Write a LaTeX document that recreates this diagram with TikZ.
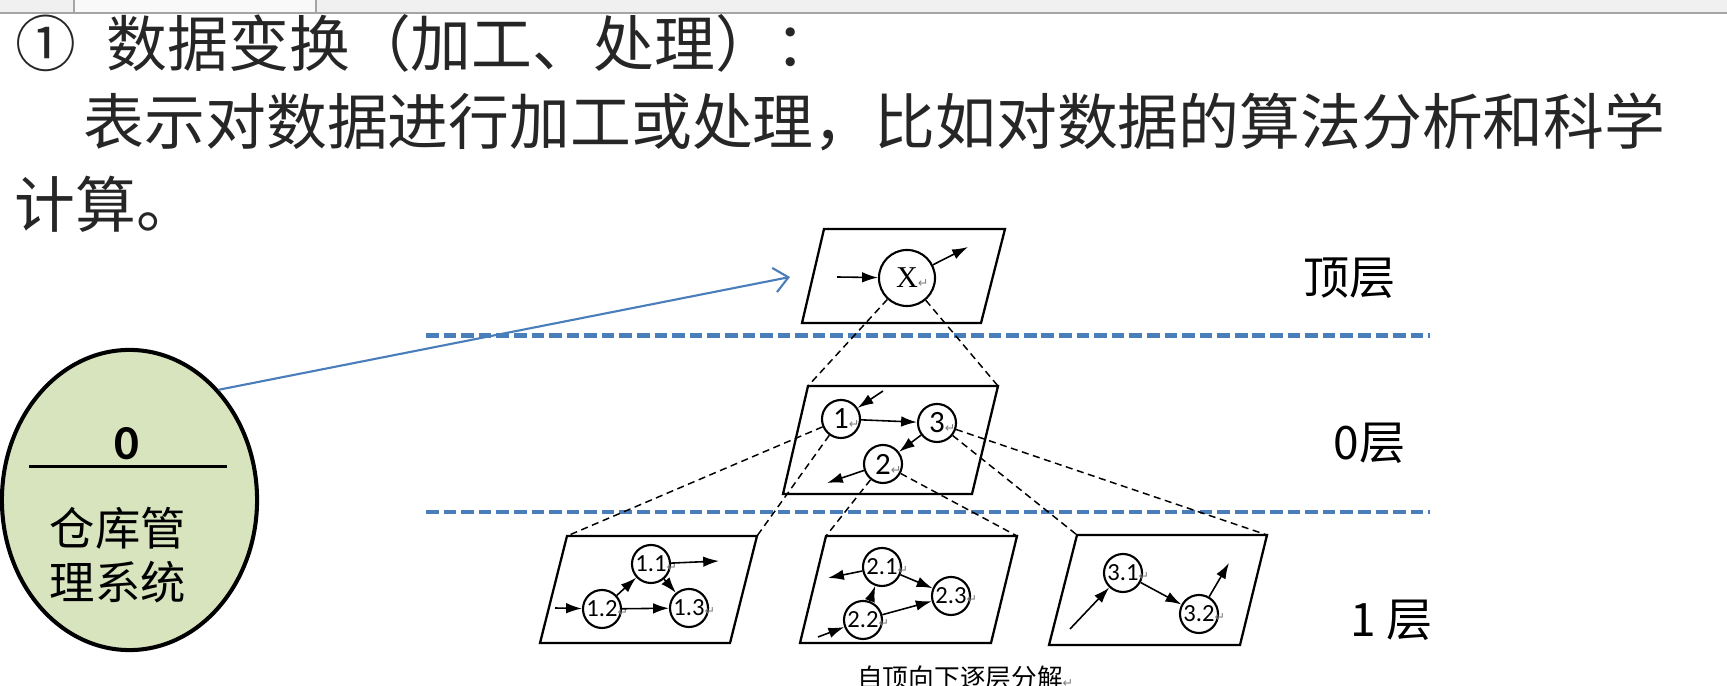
\documentclass[tikz,border=0pt]{standalone}
\usepackage{fontspec}
\setmainfont{Noto Sans CJK SC}
\newfontfamily\cjkfont{Noto Sans CJK SC}
\newfontfamily\calfont{Carlito}
\newfontfamily\timesfont{Liberation Serif}
\newfontfamily\markfont{DejaVu Sans}
\usetikzlibrary{shapes.geometric,arrows.meta}

\definecolor{ppblue}{RGB}{74,126,187}
\definecolor{sysgreen}{RGB}{215,228,189}
\definecolor{titlegray}{RGB}{38,38,38}
\definecolor{barfill}{RGB}{240,240,240}
\definecolor{barline}{RGB}{165,165,165}

\newcommand\setsize[1]{\fontsize{#1}{#1}\selectfont}
% small paragraph mark after a label, taking no width
\newcommand\retmark{\rlap{\markfont\fontsize{3.6pt}{4pt}\selectfont\color{gray}↵}}

\tikzset{
  plane/.style={draw, line width=0.65pt, line join=miter},
  proc/.style={circle, draw, fill=white, line width=0.6pt, minimum size=0.38cm,
               inner sep=0pt, font=\calfont\setsize{8.8pt}},
  subproc/.style={proc, font=\calfont\setsize{7pt}},
  topproc/.style={proc, minimum size=0.56cm, font=\timesfont\setsize{8.6pt}},
  flow/.style={-{Latex[length=4.5pt,width=3pt]}, line width=0.45pt},
  guide/.style={line width=0.42pt, dash pattern=on 2pt off 1.3pt},
  levelsep/.style={ppblue, line width=1.15pt, dash pattern=on 3.6pt off 1.4pt},
  heading/.style={anchor=base west, inner sep=0pt, text=titlegray,
                  font=\cjkfont\setsize{17.3pt}},
  levelname/.style={anchor=base west, inner sep=0pt, font=\cjkfont\setsize{13.1pt}},
}

\begin{document}
\begin{tikzpicture}[x=0.01cm, y=-0.01cm]
\useasboundingbox (0,0) rectangle (1727,686);
\fill[white] (0,0) rectangle (1727,686);

% window strip along the top edge
\fill[barfill] (0,0) rectangle (1727,13);
\fill[white!60!barfill] (74,0) rectangle (316,13);
\draw[barline, line width=0.3pt] (74,0) -- (74,13) (316,0) -- (316,13);
\draw[barline, line width=0.5pt] (0,13) -- (1727,13);

% heading text
\node[heading] (hnum) at (15,67) {①};
\node[heading] (h1) at (106,67) {数据变换（加工、处理）：};
\node[heading] (h2) at (83,145) {表示对数据进行加工或处理，比如对数据的算法分析和科学};
\node[heading] (h3) at (14,228) {计算。};

% level separators
\coordinate (s1l) at (426,335.5); \coordinate (s1r) at (1430,335.5);
\coordinate (s2l) at (426,512);   \coordinate (s2r) at (1430,512);
\draw[levelsep] (s1l) -- (s1r);
\draw[levelsep] (s2l) -- (s2r);

% level names
\node[levelname] (lvtop) at (1303,295) {顶层};
\node[levelname] (lv0) at (1333,460) {0层};
\node[levelname] (lv1) at (1350,637) {1 层};

% plane corners
\coordinate (T1) at (824,229);  \coordinate (T2) at (1005,229);
\coordinate (T3) at (981,323);  \coordinate (T4) at (802,323);
\coordinate (Z1) at (808,386);  \coordinate (Z2) at (998,386);
\coordinate (Z3) at (972,494);  \coordinate (Z4) at (783,494);
\coordinate (A1) at (567,536);  \coordinate (A2) at (757,536);
\coordinate (A3) at (730,643);  \coordinate (A4) at (540,643);
\coordinate (B1) at (826,536);  \coordinate (B2) at (1017,536);
\coordinate (B3) at (991,643);  \coordinate (B4) at (800,643);
\coordinate (C1) at (1077,535); \coordinate (C2) at (1267,535);
\coordinate (C3) at (1240,645); \coordinate (C4) at (1049,645);

\draw[plane] (T1) -- (T2) -- (T3) -- (T4) -- cycle;
\draw[plane] (Z1) -- (Z2) -- (Z3) -- (Z4) -- cycle;
\draw[plane] (A1) -- (A2) -- (A3) -- (A4) -- cycle;
\draw[plane] (B1) -- (B2) -- (B3) -- (B4) -- cycle;
\draw[plane] (C1) -- (C2) -- (C3) -- (C4) -- cycle;

% processes
\node[topproc] (X) at (907,278) {X\retmark};
\node[proc] (p1) at (841,419) {1\retmark};
\node[proc] (p3) at (937,423) {3\retmark};
\node[proc] (p2) at (883,464) {2\retmark};
\node[subproc] (p11) at (651,564) {1.1\retmark};
\node[subproc] (p12) at (602,609) {1.2\retmark};
\node[subproc] (p13) at (689,608) {1.3\retmark};
\node[subproc] (p21) at (882,567) {2.1\retmark};
\node[subproc] (p22) at (863,620) {2.2\retmark};
\node[subproc] (p23) at (951,596) {2.3\retmark};
\node[subproc] (p31) at (1123,573) {3.1\retmark};
\node[subproc] (p32) at (1199,614) {3.2\retmark};

% decomposition guides
\draw[guide] (X) -- (Z1);
\draw[guide] (X) -- (Z2);
\draw[guide] (p1) -- (A1);
\draw[guide] (p1) -- (A2);
\draw[guide] (p2) -- (B1);
\draw[guide] (p2) -- (B2);
\draw[guide] (p3) -- (C1);
\draw[guide] (p3) -- (C2);

% data flows, top level
\coordinate (xin) at (837,277);
\coordinate (xout) at (968,247);
\draw[flow] (xin) -- (X);
\draw[flow] (X) -- (xout);

% data flows, level 0
\coordinate (in1) at (883,391);
\coordinate (out2) at (827,483);
\draw[flow] (in1) -- (p1);
\draw[flow] (p1) -- (p3);
\draw[flow] (p3) -- (p2);
\draw[flow] (p2) -- (out2);

% data flows, level 1
\coordinate (in12) at (555,608);
\coordinate (out11) at (719,561);
\draw[flow] (in12) -- (p12);
\draw[flow] (p12) -- (p11);
\draw[flow] (p12) -- (p13);
\draw[flow] (p11) -- (p13);
\draw[flow] (p11) -- (out11);

\coordinate (in22) at (818,637);
\coordinate (out21) at (828,578);
\draw[flow] (in22) -- (p22);
\draw[flow] (p22) -- (p21);
\draw[flow] (p22) -- (p23);
\draw[flow] (p21) -- (p23);
\draw[flow] (p21) -- (out21);

\coordinate (in31) at (1070,629);
\coordinate (out32) at (1229,563);
\draw[flow] (in31) -- (p31);
\draw[flow] (p31) -- (p32);
\draw[flow] (p32) -- (out32);

% caption under the levels
\node[anchor=base, inner sep=0pt, font=\cjkfont\setsize{7.3pt}] (cap) at (960,688)
  {自顶向下逐层分解\retmark};

% context process
\node[ellipse, draw, fill=sysgreen, line width=1.15pt, minimum width=2.55cm,
      minimum height=3.0cm, inner sep=0pt] (sys) at (129.5,500) {};
\coordinate (sysl) at (29,467); \coordinate (sysr) at (227,467);
\draw[line width=0.85pt] (sysl) -- (sysr);
\node[anchor=base, inner sep=0pt, font=\calfont\bfseries\setsize{13.9pt}] (sysno) at (127,460) {0};
\node[anchor=base, inner sep=0pt, font=\cjkfont\setsize{12.9pt}] (sysn1) at (118,546) {仓库管};
\node[anchor=base, inner sep=0pt, font=\cjkfont\setsize{12.9pt}] (sysn2) at (118,600) {理系统};

% refinement pointer
\coordinate (xarrow) at (790,277);
\draw[ppblue, line width=0.6pt, -{Straight Barb[length=4pt,width=7pt]}] (sys.51) -- (xarrow);
\end{tikzpicture}
\end{document}
